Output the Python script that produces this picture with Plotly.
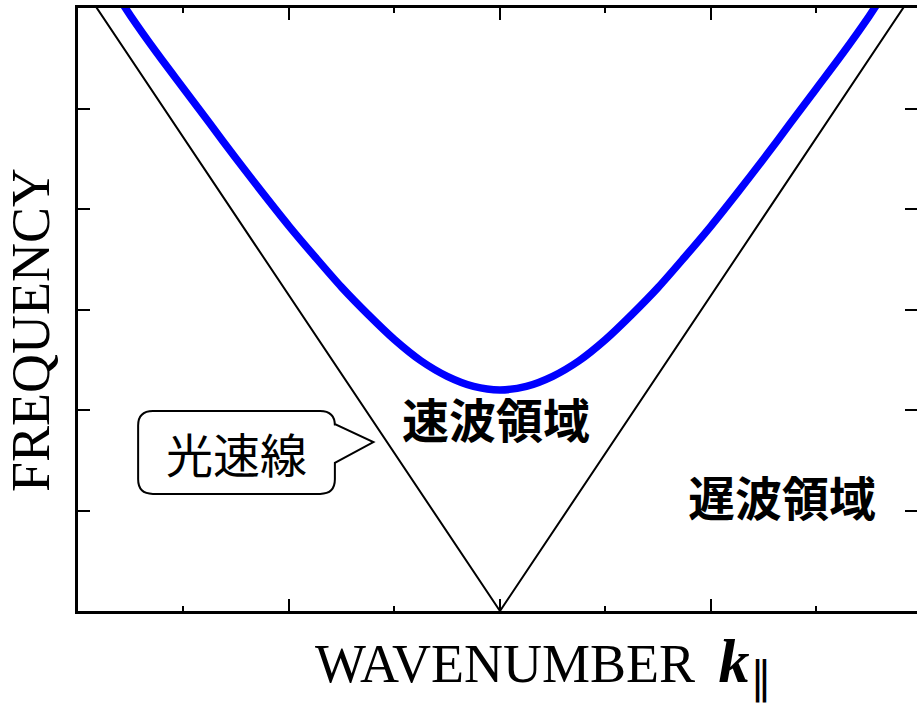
import plotly.graph_objects as go

# Light line (omega = c * |k|)
light_k = [-4.0, 0.0, 4.0]
light_w = [6.28, 0.0, 6.28]

# Fast-wave dispersion branch
wave_k = [-3.6, -3.5, -3.25, -3.0, -2.75, -2.5, -2.25, -2.0, -1.75, -1.5, -1.25,
          -1.0, -0.75, -0.5, -0.25, 0.0, 0.25, 0.5, 0.75, 1.0, 1.25, 1.5,
          1.75, 2.0, 2.25, 2.5, 2.75, 3.0, 3.25, 3.5, 3.6]
wave_w = [6.08, 5.92, 5.55, 5.20, 4.85, 4.50, 4.16, 3.83, 3.52, 3.22, 2.95,
          2.70, 2.49, 2.335, 2.235, 2.20, 2.235, 2.335, 2.49, 2.70, 2.95, 3.22,
          3.52, 3.83, 4.16, 4.50, 4.85, 5.20, 5.55, 5.92, 6.08]

W, H = 917, 712
ML, MR, MT, MB = 78, 0, 8, 101
X_MIN, X_MAX = -4.0, 3.953
Y_MIN, Y_MAX = 0.0, 6.0

fig = go.Figure()
fig.add_trace(go.Scatter(x=light_k, y=light_w, mode="lines",
                         line=dict(color="black", width=2), hoverinfo="skip"))
fig.add_trace(go.Scatter(x=wave_k, y=wave_w, mode="lines",
                         line=dict(color="#0000ff", width=7.5, shape="spline", smoothing=0.8),
                         hoverinfo="skip"))
# invisible trace so the right-hand tick axis is drawn
fig.add_trace(go.Scatter(x=[0], y=[0], yaxis="y2", mode="markers",
                         marker=dict(opacity=0), hoverinfo="skip"))

# Speech-bubble callout for the light line
bx0, bx1, by0, by1 = -3.43, -1.565, 1.165, 1.99
rx, ry = 0.14, 0.145
tail_top, tail_bot = 1.86, 1.475
tip_x, tip_y = -1.20, 1.68
path = (f"M {bx0+rx},{by1} L {bx1-rx},{by1} Q {bx1},{by1} {bx1},{by1-ry} "
        f"L {bx1},{tail_top} L {tip_x},{tip_y} L {bx1},{tail_bot} "
        f"L {bx1},{by0+ry} Q {bx1},{by0} {bx1-rx},{by0} "
        f"L {bx0+rx},{by0} Q {bx0},{by0} {bx0},{by0+ry} "
        f"L {bx0},{by1-ry} Q {bx0},{by1} {bx0+rx},{by1} Z")
fig.add_shape(type="path", path=path, xref="x", yref="y",
              line=dict(color="black", width=2), fillcolor="white", layer="above")

jp = "Noto Sans CJK JP"
serif = "Liberation Serif"
fig.add_annotation(x=-0.04, y=1.93, xref="x", yref="y", text="<b>速波領域</b>",
                   showarrow=False, font=dict(family=jp, size=47, color="black"))
fig.add_annotation(x=2.67, y=1.15, xref="x", yref="y", text="<b>遅波領域</b>",
                   showarrow=False, font=dict(family=jp, size=47, color="black"))
fig.add_annotation(x=-2.50, y=1.58, xref="x", yref="y", text="光速線",
                   showarrow=False, font=dict(family=jp, size=47, color="black"))

fig.add_annotation(x=-0.056, y=0.466, xref="paper", yref="paper", text="FREQUENCY",
                   textangle=-90, showarrow=False, xanchor="center", yanchor="middle",
                   font=dict(family=serif, size=54, color="black"))
fig.add_annotation(x=0.280, y=-0.09, xref="paper", yref="paper",
                   xanchor="left", yanchor="middle",
                   text=("WAVENUMBER <span style='font-size:40px'>&nbsp;</span>"
                         "<span style='font-size:62px'><b><i>k</i></b></span>"
                         "<sub><span style='font-size:44px'>∥</span></sub>"),
                   showarrow=False,
                   font=dict(family=serif, size=54, color="black"))

fig.update_layout(
    width=W, height=H,
    margin=dict(l=ML, r=MR, t=MT, b=MB),
    paper_bgcolor="white", plot_bgcolor="white",
    showlegend=False,
    xaxis=dict(range=[X_MIN, X_MAX], showgrid=False, zeroline=False,
               showline=True, linecolor="black", linewidth=3, mirror="ticks",
               ticks="inside", ticklen=12, tickwidth=2, tickcolor="black",
               tick0=0, dtick=2, showticklabels=False,
               minor=dict(ticks="inside", ticklen=5, tickwidth=2, tickcolor="black",
                          dtick=1, tick0=0, showgrid=False)),
    yaxis=dict(range=[Y_MIN, Y_MAX], showgrid=False, zeroline=False,
               showline=True, linecolor="black", linewidth=3, mirror=False,
               ticks="inside", ticklen=12, tickwidth=2, tickcolor="black",
               tick0=0, dtick=1, showticklabels=False),
    yaxis2=dict(range=[Y_MIN, Y_MAX], overlaying="y", side="right", anchor="x",
                showgrid=False, zeroline=False, showline=False,
                ticks="inside", ticklen=12, tickwidth=2, tickcolor="black",
                tick0=0, dtick=1, showticklabels=False),
)

fig.write_html("out.html")
